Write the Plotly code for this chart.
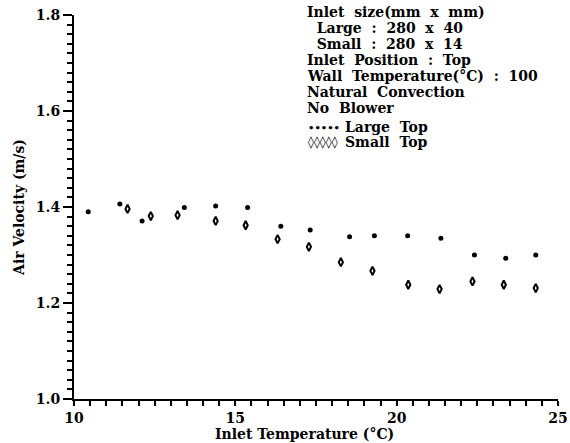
import plotly.graph_objects as go

# Data
large_x = [10.44, 11.42, 12.11, 13.42, 14.39, 15.38, 16.41, 17.32, 18.54, 19.31, 20.34, 21.37, 22.41, 23.38, 24.31]
large_y = [1.390, 1.406, 1.371, 1.399, 1.402, 1.399, 1.360, 1.352, 1.338, 1.340, 1.340, 1.335, 1.300, 1.293, 1.300]
small_x = [11.66, 12.38, 13.21, 14.39, 15.32, 16.31, 17.28, 18.27, 19.25, 20.36, 21.33, 22.35, 23.32, 24.31]
small_y = [1.396, 1.381, 1.383, 1.371, 1.362, 1.333, 1.317, 1.285, 1.267, 1.238, 1.229, 1.245, 1.238, 1.231]

x_range = [10, 25]
y_range = [1.0, 1.8]
x_major, x_minor = 5, 0.5
y_major, y_minor = 0.2, 0.02

x_title = "Inlet Temperature (°C)"
y_title = "Air Velocity (m/s)"

info_lines = [
    "Inlet size(mm x mm)",
    " Large : 280 x 40",
    " Small : 280 x 14",
    "Inlet Position : Top",
    "Wall Temperature(°C) : 100",
    "Natural Convection",
    "No Blower",
]
legend_labels = ["Large Top", "Small Top"]
legend_glyphs = ["\u2022", "\u25ca"]

FONT = "DejaVu Serif"

fig = go.Figure()
fig.add_trace(go.Scatter(x=large_x, y=large_y, mode="markers", name="Large Top",
                         marker=dict(symbol="circle", size=5, color="black")))
fig.add_trace(go.Scatter(x=small_x, y=small_y, mode="markers", name="Small Top",
                         marker=dict(symbol="diamond-tall-open", size=6, color="black",
                                     line=dict(width=2, color="black"))))

W, H = 570, 443
L, R, T, B = 74, 12, 15, 44
pw, ph = W - L - R, H - T - B

def px(x):
    return (x - L) / pw

def py(y):
    return 1 - (y - T) / ph

line_y = [12, 28, 44, 60, 76, 92, 108]
for txt, yy in zip(info_lines, line_y):
    fig.add_annotation(text=txt.replace(" ", "&nbsp;&nbsp;"),
                       xref="paper", yref="paper", x=px(305), y=py(yy),
                       xanchor="left", yanchor="middle", showarrow=False, align="left",
                       font=dict(family=FONT, size=14, color="black", weight="bold"))

for lab, g, yy, gs in zip(legend_labels, legend_glyphs, [127, 142], [10, 12]):
    fig.add_annotation(text="".join([g] * 5),
                       xref="paper", yref="paper", x=px(306), y=py(yy),
                       xanchor="left", yanchor="middle", showarrow=False, align="left",
                       font=dict(family=FONT, size=gs, color="black", weight="bold"))
    fig.add_annotation(text=lab.replace(" ", "&nbsp;&nbsp;"),
                       xref="paper", yref="paper", x=px(343), y=py(yy),
                       xanchor="left", yanchor="middle", showarrow=False, align="left",
                       font=dict(family=FONT, size=14, color="black", weight="bold"))

# x-axis title placed as in the reference, just below the tick labels
fig.add_annotation(text=x_title, xref="paper", yref="paper", x=px(304), y=py(434),
                   xanchor="center", yanchor="middle", showarrow=False,
                   font=dict(family=FONT, size=14, color="black", weight="bold"))

tfont = dict(family=FONT, size=14, color="black", weight="bold")

fig.update_layout(
    template="none",
    width=W, height=H, margin=dict(l=L, r=R, t=T, b=B, autoexpand=False),
    paper_bgcolor="white", plot_bgcolor="white", showlegend=False,
    xaxis=dict(range=x_range, tickmode="linear", dtick=x_major, tick0=x_range[0],
               showline=True, linecolor="black", linewidth=2, showgrid=False, zeroline=False,
               ticks="outside", tickcolor="black", tickwidth=2, ticklen=5,
               minor=dict(dtick=x_minor, tick0=x_range[0], ticks="outside", ticklen=5,
                          tickcolor="black", tickwidth=1.5, showgrid=False),
               tickfont=tfont, automargin=False),
    yaxis=dict(range=y_range, tickmode="linear", dtick=y_major, tick0=y_range[0], tickformat=".1f",
               showline=True, linecolor="black", linewidth=2, showgrid=False, zeroline=False,
               ticks="outside", tickcolor="black", tickwidth=2, ticklen=9,
               minor=dict(dtick=y_minor, tick0=y_range[0], ticks="outside", ticklen=5,
                          tickcolor="black", tickwidth=1.5, showgrid=False),
               tickfont=tfont, automargin=False,
               title=dict(text=y_title, standoff=8, font=tfont)),
)

fig.write_html("out.html")
